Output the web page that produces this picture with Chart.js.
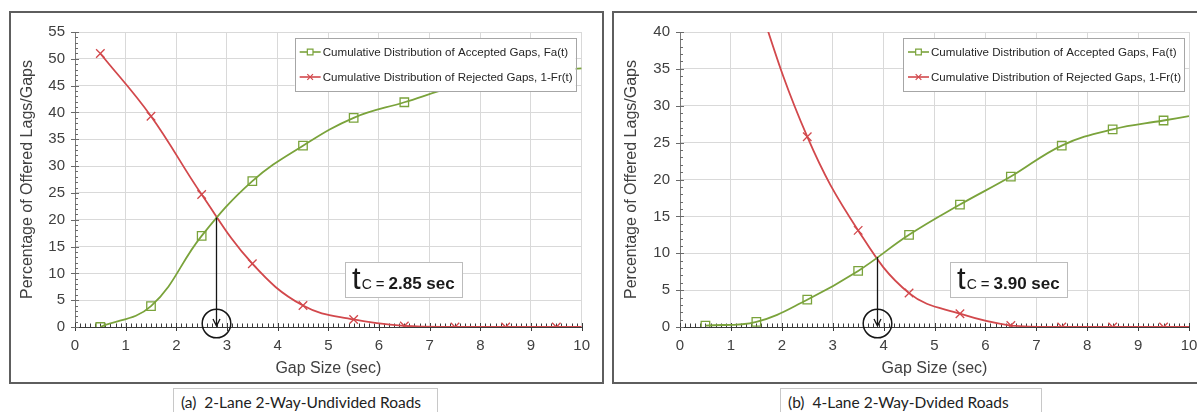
<!DOCTYPE html>
<html><head><meta charset="utf-8">
<script src="https://cdn.jsdelivr.net/npm/chart.js@4.4.1/dist/chart.umd.min.js"></script>
<style>
html,body{margin:0;padding:0;background:#fff;width:1197px;height:412px;overflow:hidden;position:relative;font-family:"Liberation Sans",Arial,sans-serif;}
.panel{position:absolute;border:2px solid #5e5e5e;box-sizing:border-box;}
#pa{left:9px;top:11px;width:595px;height:373px;}
#pb{left:612px;top:11px;width:600px;height:373px;}
.cv{position:absolute;}
#wa{left:10px;top:13px;width:590px;height:368px;}
#wb{left:614px;top:13px;width:600px;height:368px;}
.tc{position:absolute;border:1px solid #bcbcbc;background:#fff;box-sizing:border-box;white-space:nowrap;color:#1a1a1a;display:flex;align-items:baseline;padding-left:6px;height:36px;width:118px;top:262px;line-height:30px;padding-top:1px;}
.tc .t{font-family:"Liberation Sans Narrow","Liberation Sans",Arial,sans-serif;font-size:31px;}
.tc .c{font-size:14px;margin-left:1px;}
.tc .eq{font-size:15px;margin:0 4px 0 4px;}
.tc b{font-size:17px;}
.cap{position:absolute;top:388px;height:30px;border:1px solid #c8c8c8;border-bottom:none;font-family:Lato,"Open Sans",sans-serif;font-size:15.5px;color:#222;box-sizing:border-box;padding-left:7px;line-height:26px;white-space:nowrap;}
</style>
</head><body>
<div class="panel" id="pa"></div>
<div class="panel" id="pb"></div>
<div class="cv" id="wa"><canvas id="ca" width="590" height="368"></canvas></div>
<div class="cv" id="wb"><canvas id="cb" width="600" height="368"></canvas></div>
<div class="tc" style="left:345px"><span class="t">t</span><span class="c">C</span><span class="eq">=</span><b>2.85 sec</b></div>
<div class="tc" style="left:950px"><span class="t">t</span><span class="c">C</span><span class="eq">=</span><b>3.90 sec</b></div>
<div class="cap" style="left:173px;width:265px">(a)&nbsp;&nbsp;2-Lane 2-Way-Undivided Roads</div>
<div class="cap" style="left:780px;width:262px">(b)&nbsp;&nbsp;4-Lane 2-Way-Dvided Roads</div>
<script>
// ---- data ----
const gapSize = [0.5, 1.5, 2.5, 3.5, 4.5, 5.5, 6.5, 7.5, 8.5, 9.5, 10];
const acceptedA = [0, 3.9, 17.0, 27.2, 33.8, 39.0, 41.9, 44.8, 46.6, 47.8, 48.2];
const rejectedA = [51.0, 39.3, 24.7, 11.8, 4.0, 1.4, 0.2, 0, 0, 0, 0];
const acceptedB = [0.2, 0.7, 3.7, 7.6, 12.5, 16.6, 20.4, 24.6, 26.8, 28.0, 28.6];
const rejectedB = [68, 45, 25.8, 13.1, 4.6, 1.8, 0.2, 0, 0, 0, 0];
const seriesLabels = ["Cumulative Distribution of Accepted Gaps, Fa(t)", "Cumulative Distribution of Rejected Gaps, 1-Fr(t)"];
const xTickLabels = ["0","1","2","3","4","5","6","7","8","9","10"];
const criticalA = {x: 2.78, y: 20.4};
const criticalB = {x: 3.88, y: 9.5};
const yMaxA = 55, yMaxB = 40;

const GREEN = '#7aa33b', RED = '#d2484c';
const FONT = '"Liberation Sans", Arial, sans-serif';

const decor = {
  id: 'decor',
  beforeDatasetsDraw(chart, args, o) {
    const ctx = chart.ctx, xs = chart.scales.x, ys = chart.scales.y;
    const x0 = xs.getPixelForValue(0), y0 = ys.getPixelForValue(0);
    ctx.save();
    ctx.strokeStyle = '#3a3a3a'; ctx.lineWidth = 1;
    ctx.beginPath();
    for (let i = 0; i <= 100; i++) {
      const px = Math.round(xs.getPixelForValue(i / 10)) + 0.5;
      if (i % 10 === 0) { ctx.moveTo(px, y0 - 4); ctx.lineTo(px, y0 + 4); }
      else { ctx.moveTo(px, y0 - 3.5); ctx.lineTo(px, y0); }
    }
    ctx.stroke();
    ctx.strokeStyle = '#6a6a6a';
    ctx.beginPath();
    for (let v = 0; v <= ys.max; v++) {
      const py = Math.round(ys.getPixelForValue(v)) + 0.5;
      if (v % 5 === 0) { ctx.moveTo(x0 - 4, py); ctx.lineTo(x0 + 4, py); }
      else { ctx.moveTo(x0, py); ctx.lineTo(x0 + 3, py); }
    }
    ctx.stroke();
    ctx.restore();
  },
  afterDatasetsDraw(chart, args, o) {
    const ctx = chart.ctx, xs = chart.scales.x, ys = chart.scales.y, ca = chart.chartArea;
    ctx.save();
    const px = Math.round(xs.getPixelForValue(o.crit.x)) + 0.5;
    const py = ys.getPixelForValue(o.crit.y), y0 = ys.getPixelForValue(0);
    ctx.strokeStyle = '#151515'; ctx.lineWidth = 1.3;
    ctx.beginPath(); ctx.moveTo(px, py); ctx.lineTo(px, y0 - 1);
    ctx.moveTo(px - 3.5, y0 - 8); ctx.lineTo(px, y0 - 1); ctx.lineTo(px + 3.5, y0 - 8);
    ctx.stroke();
    ctx.lineWidth = 1.5;
    ctx.beginPath(); ctx.arc(px, y0 - 3.5, 14.3, 0, Math.PI * 2); ctx.stroke();
    const L = o.legend;
    const lx = ca.right - L.dx - L.w, ly = ca.top + L.dy;
    ctx.fillStyle = '#fff'; ctx.fillRect(lx, ly, L.w, L.h);
    ctx.strokeStyle = '#a6a6a6'; ctx.lineWidth = 1;
    ctx.strokeRect(Math.round(lx) + 0.5, Math.round(ly) + 0.5, L.w, L.h);
    ctx.font = '11.6px ' + FONT;
    ctx.textBaseline = 'middle'; ctx.textAlign = 'left';
    chart.data.datasets.forEach((ds, i) => {
      const ry = ly + L.row0 + i * L.gap;
      ctx.strokeStyle = ds.borderColor; ctx.lineWidth = 1.6;
      ctx.beginPath(); ctx.moveTo(lx + 5, ry); ctx.lineTo(lx + 26, ry); ctx.stroke();
      ctx.lineWidth = 1.2;
      Chart.helpers.drawPoint(ctx, {pointStyle: ds.pointStyle, radius: 4, rotation: 0, borderWidth: 1.2}, lx + 15.5, ry);
      ctx.fillStyle = '#262626';
      ctx.fillText(ds.label, lx + 28, ry + 0.5, L.w - 31);
    });
    ctx.restore();
  }
};

function makeChart(id, acc, rej, yMax, crit, padRight, yWidth, legDx) {
  const ptR = c => (c.dataIndex === gapSize.length - 1 ? 0 : 6);
  return new Chart(document.getElementById(id), {
    type: 'line',
    data: {
      datasets: [
        {label: seriesLabels[0], data: gapSize.map((g, i) => ({x: g, y: acc[i]})), borderColor: GREEN, backgroundColor: 'rgba(0,0,0,0)',
         pointStyle: 'rect', pointRadius: ptR, pointBorderWidth: 1.3, borderWidth: 1.8, tension: 0.4},
        {label: seriesLabels[1], data: gapSize.map((g, i) => ({x: g, y: rej[i]})), borderColor: RED, backgroundColor: 'rgba(0,0,0,0)',
         pointStyle: 'crossRot', pointRadius: ptR, pointBorderWidth: 1.3, borderWidth: 1.8, tension: 0.4}
      ]
    },
    options: {
      responsive: false, animation: false, devicePixelRatio: 1,
      layout: {padding: {top: 14, right: padRight, left: 0, bottom: 0}},
      plugins: {legend: {display: false}, tooltip: {enabled: false},
        decor: {crit: crit, legend: {dx: legDx, dy: 6, w: 281, h: 53, row0: 14, gap: 25}}},
      scales: {
        x: {type: 'linear', min: 0, max: 10,
          afterFit: s => { s.height = 54; },
          grid: {color: '#d9d9d9', drawTicks: false},
          border: {color: '#3a3a3a', width: 1},
          ticks: {stepSize: 1, padding: 10, color: '#404040', font: {size: 15, family: FONT},
            callback: v => xTickLabels[v]},
          title: {display: true, text: 'Gap Size (sec)', color: '#404040', padding: {top: 3, bottom: 3},
            font: {size: 16, family: FONT}}
        },
        y: {min: 0, max: yMax,
          afterFit: s => { s.width = yWidth; },
          grid: {color: '#d9d9d9', drawTicks: false},
          border: {color: '#7a7a7a', width: 1},
          ticks: {stepSize: 5, padding: 10, color: '#404040', font: {size: 15, family: FONT}},
          title: {display: true, text: 'Percentage of Offered Lags/Gaps', color: '#404040', padding: {top: 8, bottom: 4},
            font: {size: 16, family: FONT}}
        }
      }
    },
    plugins: [decor]
  });
}
makeChart('ca', acceptedA, rejectedA, yMaxA, criticalA, 15, 65, 6);
makeChart('cb', acceptedB, rejectedB, yMaxB, criticalB, 25, 66, 5);
</script>
</body></html>
